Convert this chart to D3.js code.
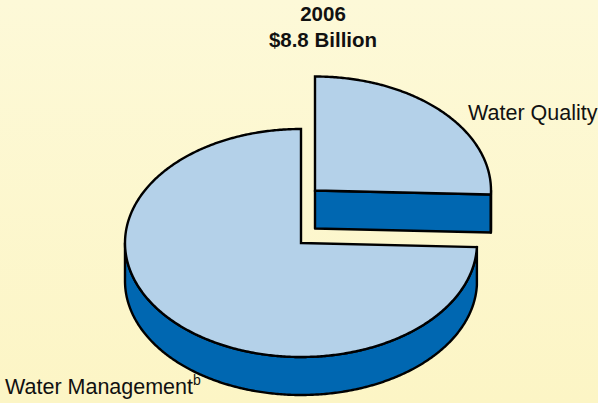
<!DOCTYPE html>
<html>
<head>
<meta charset="utf-8">
<script src="https://cdn.jsdelivr.net/npm/d3@7"></script>
<style>
  html, body { margin: 0; padding: 0; background: #fdf8d2; }
  svg { display: block; }
  text { font-family: "Liberation Sans", Arial, Helvetica, sans-serif; fill: #111; }
</style>
</head>
<body>
<svg id="chart" width="598" height="403"></svg>
<script>
// Spending by category, 2006 (billions of dollars)
const categories = ["Water Quality", "Water Management"];
const values = [2.25, 6.55];
const titleLines = ["2006", "$8.8 Billion"];

const W = 598, H = 403;
const svg = d3.select("#chart");

// background wash
const defs = svg.append("defs");
const grad = defs.append("linearGradient").attr("id", "bg")
  .attr("x1", 0).attr("y1", 0).attr("x2", 0).attr("y2", 1);
grad.append("stop").attr("offset", "0%").attr("stop-color", "#fdf9d8");
grad.append("stop").attr("offset", "100%").attr("stop-color", "#fcf5c5");
svg.append("rect").attr("width", W).attr("height", H).attr("fill", "url(#bg)");

// 3D pie geometry
const cx = 301, cy = 243;      // centre of the top face
const rx = 176, ry = 114;      // ellipse radii of the tilted disc
const depth = 38;              // thickness of the disc
const explode = { "Water Quality": [14, -52.5] };

const topColor = "#b4d1e9";
const sideColor = "#0067b1";
const strokeW = 2.4;

const pie = d3.pie().sort(null).value(d => d.value);
const arcs = pie(categories.map((c, i) => ({ name: c, value: values[i] })));

// angle (0 = 12 o'clock, clockwise) -> point on the ellipse
const angleX = d3.scaleLinear().domain([-1, 1]).range([-rx, rx]);
const angleY = d3.scaleLinear().domain([-1, 1]).range([ry, -ry]);
function pt(a, ox, oy, dz) {
  return [ox + angleX(Math.sin(a)), oy + angleY(Math.cos(a)) + (dz || 0)];
}
function arcPts(a0, a1, ox, oy, dz) {
  const n = Math.max(2, Math.ceil(Math.abs(a1 - a0) / 0.01));
  return d3.range(n + 1).map(i => pt(a0 + (a1 - a0) * i / n, ox, oy, dz));
}
const line = d3.line();

function drawSlice(g, d) {
  const off = explode[d.data.name] || [0, 0];
  const ox = cx + off[0], oy = cy + off[1];
  const a0 = d.startAngle, a1 = d.endAngle;

  // flat cut walls that face the viewer
  const walls = [];
  if (Math.sin(a0) < -1e-9) walls.push(a0);
  if (Math.sin(a1) > 1e-9) walls.push(a1);
  walls.forEach(a => {
    const p = pt(a, ox, oy);
    g.append("path")
      .attr("d", line([[ox, oy], p, [p[0], p[1] + depth], [ox, oy + depth]]) + "Z")
      .attr("fill", sideColor).attr("stroke", "#000")
      .attr("stroke-width", strokeW).attr("stroke-linejoin", "round");
  });

  // curved outer wall (front half only)
  const s0 = Math.max(a0, Math.PI / 2), s1 = Math.min(a1, 3 * Math.PI / 2);
  if (s1 > s0) {
    const topArc = arcPts(s0, s1, ox, oy, 0);
    const botArc = arcPts(s1, s0, ox, oy, depth);
    g.append("path")
      .attr("d", line(topArc.concat(botArc)) + "Z")
      .attr("fill", sideColor).attr("stroke", "#000")
      .attr("stroke-width", strokeW).attr("stroke-linejoin", "round");
  }

  // top face
  const face = [[ox, oy]].concat(arcPts(a0, a1, ox, oy, 0));
  g.append("path")
    .attr("d", line(face) + "Z")
    .attr("fill", topColor).attr("stroke", "#000")
    .attr("stroke-width", strokeW).attr("stroke-linejoin", "miter");
}

const g = svg.append("g");
// the exploded slice sits behind, so it is drawn first
arcs.slice().sort((a, b) => (explode[b.data.name] ? 1 : 0) - (explode[a.data.name] ? 1 : 0))
  .forEach(d => drawSlice(g.append("g"), d));

// title
svg.append("text").attr("x", 323).attr("y", 21).attr("text-anchor", "middle")
  .attr("font-size", 20.5).attr("font-weight", "bold").text(titleLines[0]);
svg.append("text").attr("x", 323).attr("y", 47).attr("text-anchor", "middle")
  .attr("font-size", 20.5).attr("font-weight", "bold").text(titleLines[1]);

// slice labels
svg.append("text").attr("x", 468).attr("y", 120)
  .attr("font-size", 21.5).text(categories[0]);
const wm = svg.append("text").attr("x", 5).attr("y", 394).attr("font-size", 21.5);
wm.append("tspan").text(categories[1]);
wm.append("tspan").attr("font-size", 14).attr("dy", -9).text("b");
</script>
</body>
</html>
